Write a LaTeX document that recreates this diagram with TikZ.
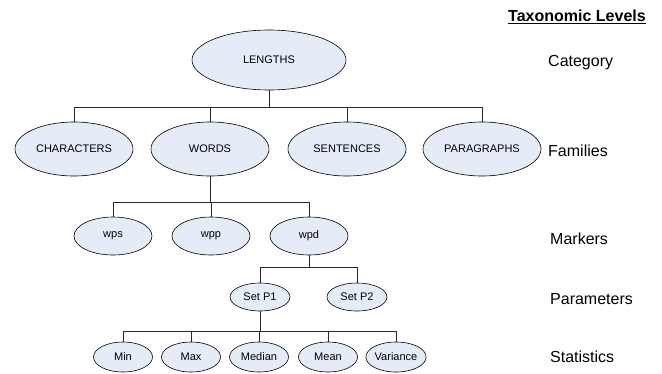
\documentclass[tikz,border=0pt]{standalone}
\usepackage{fontspec}
\setmainfont{Liberation Sans}
\usetikzlibrary{shapes.geometric}
\definecolor{nodefill}{RGB}{230,236,247}
\definecolor{linecol}{RGB}{40,40,40}
\tikzset{
  ell/.style={ellipse, draw=black, line width=0.6pt, fill=nodefill, inner sep=0pt,
              font=\fontsize{11}{13}\selectfont},
  bignode/.style={ell, minimum width=154pt, minimum height=60pt},
  famnode/.style={ell, minimum width=118pt, minimum height=54pt},
  mkrnode/.style={ell, minimum width=78pt, minimum height=38pt},
  parnode/.style={ell, minimum width=60pt, minimum height=28pt},
  statnode/.style={ell, minimum width=59pt, minimum height=30pt},
  conn/.style={draw=linecol, line width=0.7pt},
  lvl/.style={anchor=west, inner sep=0pt, font=\fontsize{16}{19}\selectfont}
}
\begin{document}
\begin{tikzpicture}[x=1pt,y=-1pt]
\useasboundingbox (0,0) rectangle (662,373);
% Taxonomic level labels
\node[inner sep=0pt, font=\fontsize{16}{19}\selectfont\bfseries] (tl) at (577,17) {\underline{Taxonomic Levels}};
\node[lvl] (lc) at (548,63) {Category};
\node[lvl] (lf) at (548,151) {Families};
\node[lvl] (lm) at (550,239) {Markers};
\node[lvl] (lp) at (550,299) {Parameters};
\node[lvl] (ls) at (550,357) {Statistics};
% Tree nodes
\node[bignode] (L) at (269,60) {LENGTHS};
\node[famnode] (C) at (74,149) {CHARACTERS};
\node[famnode] (W) at (210,149) {WORDS};
\node[famnode] (S) at (347,149) {SENTENCES};
\node[famnode] (P) at (482,149) {PARAGRAPHS};
\node[mkrnode] (wps) at (113,236) {wps};
\node[mkrnode] (wpp) at (211,236) {wpp};
\node[mkrnode] (wpd) at (309,236) {wpd};
\node[parnode] (P1) at (260,297) {Set P1};
\node[parnode] (P2) at (357,297) {Set P2};
\node[statnode] (s1) at (123,357) {Min};
\node[statnode] (s2) at (191,357) {Max};
\node[statnode] (s3) at (259,357) {Median};
\node[statnode] (s4) at (328,357) {Mean};
\node[statnode] (s5) at (396,357) {Variance};
% bar levels
\coordinate (b1) at (0,107);
\coordinate (b2) at (0,202);
\coordinate (b3) at (0,267);
\coordinate (b4) at (0,331);
% connectors
\foreach \c in {C,W,S,P} \draw[conn] (L.south) -- (L.south |- b1) -| (\c.north);
\foreach \c in {wps,wpp,wpd} \draw[conn] (W.south) -- (W.south |- b2) -| (\c.north);
\foreach \c in {P1,P2} \draw[conn] (wpd.south) -- (wpd.south |- b3) -| (\c.north);
\foreach \c in {s1,s2,s3,s4,s5} \draw[conn] (P1.south) -- (P1.south |- b4) -| (\c.north);
\end{tikzpicture}
\end{document}
